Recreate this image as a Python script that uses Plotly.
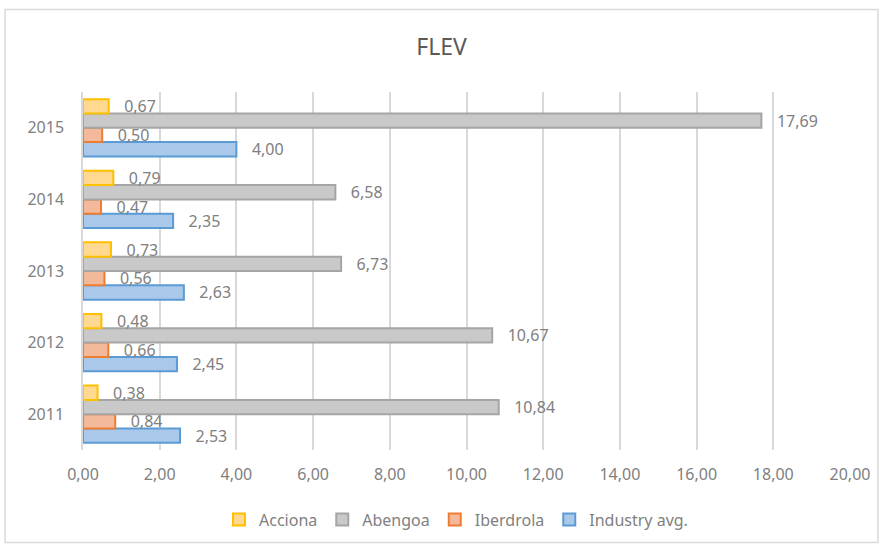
import plotly.graph_objects as go

years = ["2011", "2012", "2013", "2014", "2015"]
acciona = [0.38, 0.48, 0.73, 0.79, 0.67]
abengoa = [10.84, 10.67, 6.73, 6.58, 17.69]
iberdrola = [0.84, 0.66, 0.56, 0.47, 0.50]
industry = [2.53, 2.45, 2.63, 2.35, 4.00]
x_ticks = [0, 2, 4, 6, 8, 10, 12, 14, 16, 18, 20]

FONT = "Noto Sans"
series = [
    ("Industry avg.", industry, "#A9C8EA", "#5B9BD5"),
    ("Iberdrola", iberdrola, "#F4B89A", "#ED7D31"),
    ("Abengoa", abengoa, "#C9C9C9", "#A5A5A5"),
    ("Acciona", acciona, "#FFD98F", "#FFC000"),
]

fig = go.Figure()
for name, vals, fill, line in series:
    fig.add_trace(go.Bar(
        y=years, x=vals, name=name, orientation="h",
        marker=dict(color=fill, line=dict(color=line, width=2)),
        texttemplate="\u00a0\u00a0\u00a0%{x:.2f}", textposition="outside",
        constraintext="none",
        textfont=dict(family=FONT, size=16, color="#808080"),
        cliponaxis=False,
    ))

L, R, T, B = 83, 33, 92, 97
W, H = 883, 549
pw, ph = W - L - R, H - T - B

fig.update_layout(
    width=W, height=H,
    margin=dict(l=L, r=R, t=T, b=B),
    paper_bgcolor="white", plot_bgcolor="white",
    separators=",.",
    barmode="group", bargap=0.2, bargroupgap=0.0,
    title=dict(text="FLEV", x=0.5, xanchor="center", y=1 - 47 / H, yanchor="middle",
               font=dict(family=FONT, size=23, color="#595959")),
    xaxis=dict(range=[0, 20], tickvals=x_ticks, tickformat=".2f",
               showgrid=True, gridcolor="#D9D9D9", gridwidth=1.5,
               zeroline=False, showline=False, ticks="", ticklabelstandoff=13,
               tickfont=dict(family=FONT, size=16, color="#808080")),
    yaxis=dict(type="category", showgrid=False, showline=True, linecolor="#D9D9D9",
               linewidth=1.5, ticks="", ticklabelstandoff=14,
               tickfont=dict(family=FONT, size=16, color="#808080")),
    legend=dict(orientation="h", traceorder="reversed", x=(456 - L) / pw, xanchor="center",
                y=-(522 - (T + ph)) / ph, yanchor="middle",
                font=dict(family=FONT, size=16, color="#808080"),
                itemwidth=30),
    shapes=[dict(type="rect", xref="paper", yref="paper",
                 x0=(5 - L) / pw, x1=(878 - L) / pw,
                 y0=(T + ph - 545) / ph, y1=(T + ph - 9) / ph,
                 line=dict(color="#D9D9D9", width=1.5), layer="below")],
)

fig.write_html("out.html")
